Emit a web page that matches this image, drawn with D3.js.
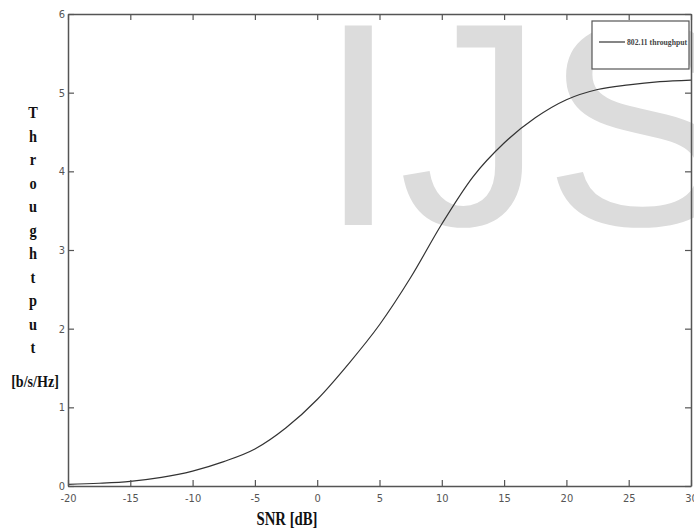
<!DOCTYPE html>
<html>
<head>
<meta charset="utf-8">
<script src="https://cdn.jsdelivr.net/npm/d3@7"></script>
<style>
body { margin: 0; background: #fff; }
svg { display: block; }
.tick text { font-family: "Liberation Sans Narrow", "DejaVu Sans Condensed", sans-serif; font-size: 11px; fill: #555; }
</style>
</head>
<body>
<div id="chart"></div>
<script>
var width = 694, height = 529;
var margin = { left: 68, top: 14, right: 3, bottom: 43 };

// SNR in dB vs throughput in b/s/Hz
var snr = [-20, -17.5, -15, -12.5, -10, -7.5, -5, -2.5, 0, 2.5, 5, 7.5, 10, 12.5, 15, 17.5, 20, 22.5, 25, 27.5, 30];
var throughput = [0.02, 0.035, 0.06, 0.11, 0.19, 0.31, 0.47, 0.74, 1.1, 1.55, 2.05, 2.65, 3.33, 3.93, 4.36, 4.68, 4.91, 5.04, 5.1, 5.14, 5.16];
var xticks = [-20, -15, -10, -5, 0, 5, 10, 15, 20, 25, 30];
var yticks = [0, 1, 2, 3, 4, 5, 6];
var ylabel = ["T", "h", "r", "o", "u", "g", "h", "t", "p", "u", "t"];
var seriesname = "802.11 throughput";

var svg = d3.select("#chart").append("svg")
    .attr("width", width)
    .attr("height", height);

// watermark behind everything
svg.append("text")
    .attr("x", 318)
    .attr("y", 225)
    .style("font-family", "'Liberation Sans', Arial, sans-serif")
    .style("font-size", "290px")
    .style("fill", "#dcdcdc")
    .text("IJS");

var x = d3.scaleLinear().domain([-20, 30]).range([margin.left, width - margin.right]);
var y = d3.scaleLinear().domain([0, 6]).range([height - margin.bottom, margin.top]);

var line = d3.line()
    .x(function (d) { return x(d[0]); })
    .y(function (d) { return y(d[1]); })
    .curve(d3.curveMonotoneX);

var pts = snr.map(function (s, i) { return [s, throughput[i]]; });

svg.append("path")
    .datum(pts)
    .attr("d", line)
    .style("fill", "none")
    .style("stroke", "#333")
    .style("stroke-width", 1.2);

// axes, ticks pointing inward like matlab (plain hyphen for negatives)
var fmt = function (d) { return String(d); };
var gbottom = svg.append("g")
    .attr("transform", "translate(0," + y(0) + ")")
    .call(d3.axisBottom(x).tickValues(xticks).tickFormat(fmt).tickSizeInner(-6).tickSizeOuter(0).tickPadding(6));
var gleft = svg.append("g")
    .attr("transform", "translate(" + x(-20) + ",0)")
    .call(d3.axisLeft(y).tickValues(yticks).tickFormat(fmt).tickSizeInner(-6).tickSizeOuter(0).tickPadding(2));
var gtop = svg.append("g")
    .attr("transform", "translate(0," + y(6) + ")")
    .call(d3.axisTop(x).tickValues(xticks).tickSizeInner(-6).tickSizeOuter(0).tickFormat(""));
var gright = svg.append("g")
    .attr("transform", "translate(" + x(30) + ",0)")
    .call(d3.axisRight(y).tickValues(yticks).tickSizeInner(-6).tickSizeOuter(0).tickFormat(""));

[gbottom, gleft, gtop, gright].forEach(function (g) {
    g.selectAll("path").style("stroke", "#555").style("stroke-width", 1.5);
    g.selectAll("line").style("stroke", "#555").style("stroke-width", 1.2);
});
gbottom.selectAll("text").attr("y", 8);
gleft.selectAll("text").attr("x", -3);

// legend
svg.append("rect")
    .attr("x", 592).attr("y", 21)
    .attr("width", 97).attr("height", 48)
    .style("fill", "#fff")
    .style("stroke", "#555")
    .style("stroke-width", 1.2);
svg.append("line")
    .attr("x1", 599).attr("x2", 625)
    .attr("y1", 42).attr("y2", 42)
    .style("stroke", "#333").style("stroke-width", 1.2);
svg.append("text")
    .attr("x", 627).attr("y", 44.5)
    .attr("textLength", 60)
    .attr("lengthAdjust", "spacingAndGlyphs")
    .style("font-family", "'Liberation Serif', serif")
    .style("font-size", "7.5px")
    .style("font-weight", "bold")
    .style("fill", "#444")
    .text(seriesname);

// axis titles
var serif = "'Liberation Serif', 'Times New Roman', serif";
svg.append("text")
    .attr("transform", "translate(287,525) scale(0.82,1)")
    .attr("text-anchor", "middle")
    .style("font-family", serif)
    .style("font-size", "18px")
    .style("font-weight", "bold")
    .style("fill", "#111")
    .text("SNR [dB]");

svg.selectAll(".ylab")
    .data(ylabel)
    .enter()
    .append("text")
    .attr("class", "ylab")
    .attr("transform", function (d, i) { return "translate(33," + (118 + i * 23.5) + ") scale(0.9,1.1)"; })
    .attr("text-anchor", "middle")
    .style("font-family", serif)
    .style("font-size", "16px")
    .style("font-weight", "bold")
    .style("fill", "#111")
    .text(function (d) { return d; });

svg.append("text")
    .attr("transform", "translate(35,387) scale(0.88,1.1)")
    .attr("text-anchor", "middle")
    .style("font-family", serif)
    .style("font-size", "16px")
    .style("font-weight", "bold")
    .style("fill", "#111")
    .text("[b/s/Hz]");
</script>
</body>
</html>
